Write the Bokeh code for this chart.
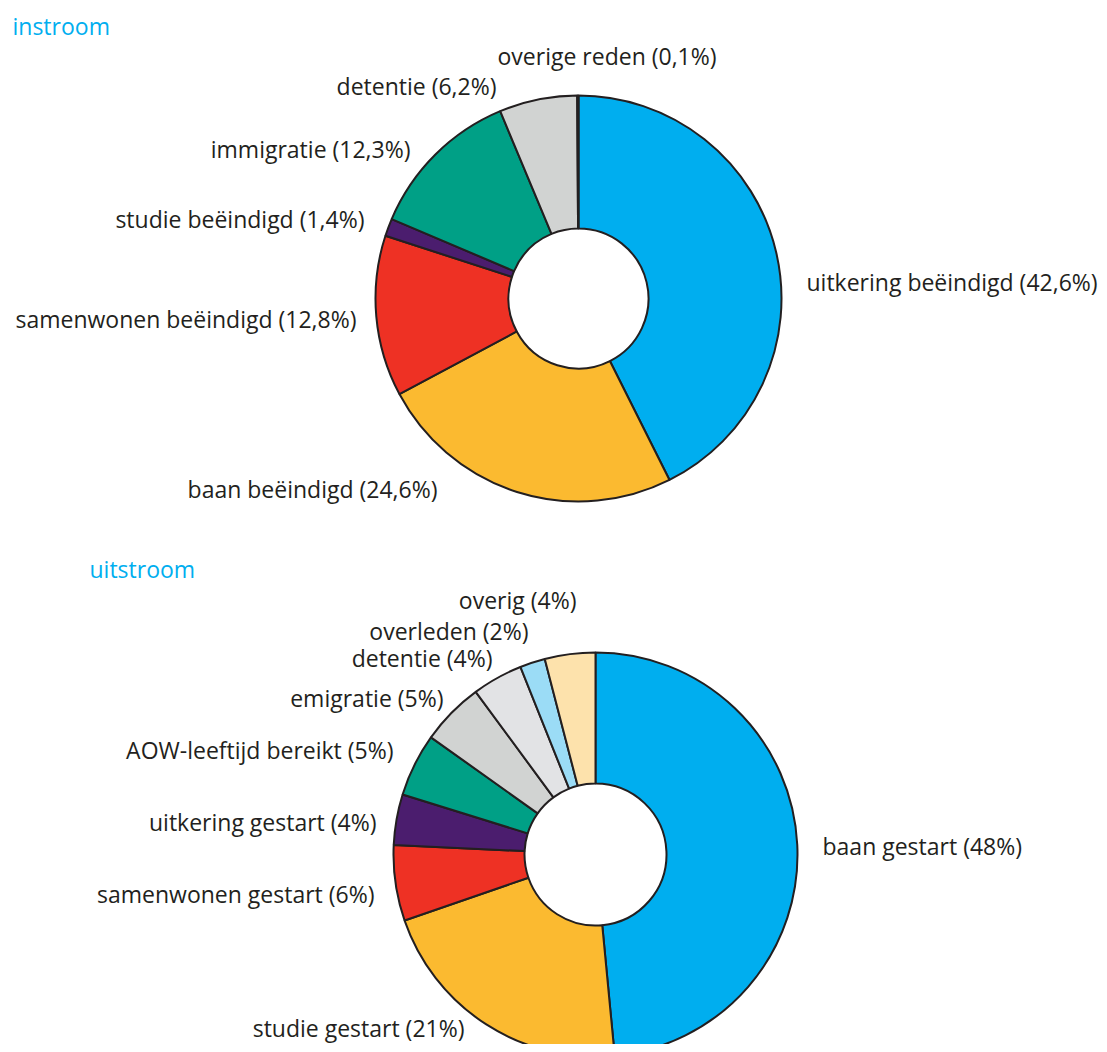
import math
from bokeh.plotting import figure
from bokeh.models import Range1d, ColumnDataSource
from bokeh.core.properties import value
from bokeh.embed import file_html
from bokeh.resources import INLINE

# ---- data ----
in_labels = ["uitkering beëindigd (42,6%)", "baan beëindigd (24,6%)", "samenwonen beëindigd (12,8%)",
             "studie beëindigd (1,4%)", "immigratie (12,3%)", "detentie (6,2%)", "overige reden (0,1%)"]
in_values = [42.6, 24.6, 12.8, 1.4, 12.3, 6.2, 0.1]
in_colors = ["#00AEEF", "#FBBA30", "#EE3124", "#4B1D6E", "#00A086", "#D1D3D2", "#E2E3E5"]

out_labels = ["baan gestart (48%)", "studie gestart (21%)", "samenwonen gestart (6%)",
              "uitkering gestart (4%)", "AOW-leeftijd bereikt (5%)", "emigratie (5%)",
              "detentie (4%)", "overleden (2%)", "overig (4%)"]
out_values = [48, 21, 6, 4, 5, 5, 4, 2, 4]
out_colors = ["#00AEEF", "#FBBA30", "#EE3124", "#4B1D6E", "#00A086", "#D1D3D2",
              "#E2E3E5", "#9BDCF6", "#FDE2AC"]

titles = ["instroom", "uitstroom"]

# ---- layout (screen pixel coords, converted to y-up) ----
W, H = 1099, 1044
def Y(sy):
    return H - sy

p = figure(width=W, height=H, output_backend="svg", toolbar_location=None,
           x_range=Range1d(0, W), y_range=Range1d(0, H), min_border=0)
p.axis.visible = False
p.grid.visible = False
p.outline_line_color = None
p.background_fill_color = "white"

FONT = value("Open Sans")
FS = "23px"
EDGE = "#231F20"

def donut(values, colors, cx, cy, r_out, r_in):
    tot = sum(values)
    starts, ends = [], []
    c = 0.0
    for v in values:
        starts.append(math.pi / 2 - 2 * math.pi * c / tot)
        c += v
        ends.append(math.pi / 2 - 2 * math.pi * c / tot)
    src = ColumnDataSource(dict(start=starts, end=ends, color=colors))
    p.annular_wedge(x=cx, y=cy, inner_radius=r_in, outer_radius=r_out,
                    start_angle="start", end_angle="end", direction="clock",
                    fill_color="color", line_color=EDGE, line_width=2, source=src)

donut(in_values, in_colors, 578, Y(298), 203, 70)
donut(out_values, out_colors, 595, Y(854), 202, 71)

def label(x, sy, txt, align, color="#231F20"):
    p.text(x=[x], y=[Y(sy)], text=[txt], text_font=FONT, text_font_size=FS,
           text_color=color, text_align=align, text_baseline="middle")

# titles
label(12, 25, titles[0], "left", "#00AEEF")
label(89, 568, titles[1], "left", "#00AEEF")

# instroom labels
label(806, 281, in_labels[0], "left")
label(437, 488, in_labels[1], "right")
label(356, 318, in_labels[2], "right")
label(364, 218, in_labels[3], "right")
label(410, 148, in_labels[4], "right")
label(496, 85, in_labels[5], "right")
label(497, 55, in_labels[6], "left")

# uitstroom labels
label(822, 845, out_labels[0], "left")
label(464, 1027, out_labels[1], "right")
label(374, 893, out_labels[2], "right")
label(376, 821, out_labels[3], "right")
label(393, 749, out_labels[4], "right")
label(443, 697, out_labels[5], "right")
label(492, 657, out_labels[6], "right")
label(528, 630, out_labels[7], "right")
label(576, 599, out_labels[8], "right")

open("out.html", "w").write(file_html(p, INLINE))
